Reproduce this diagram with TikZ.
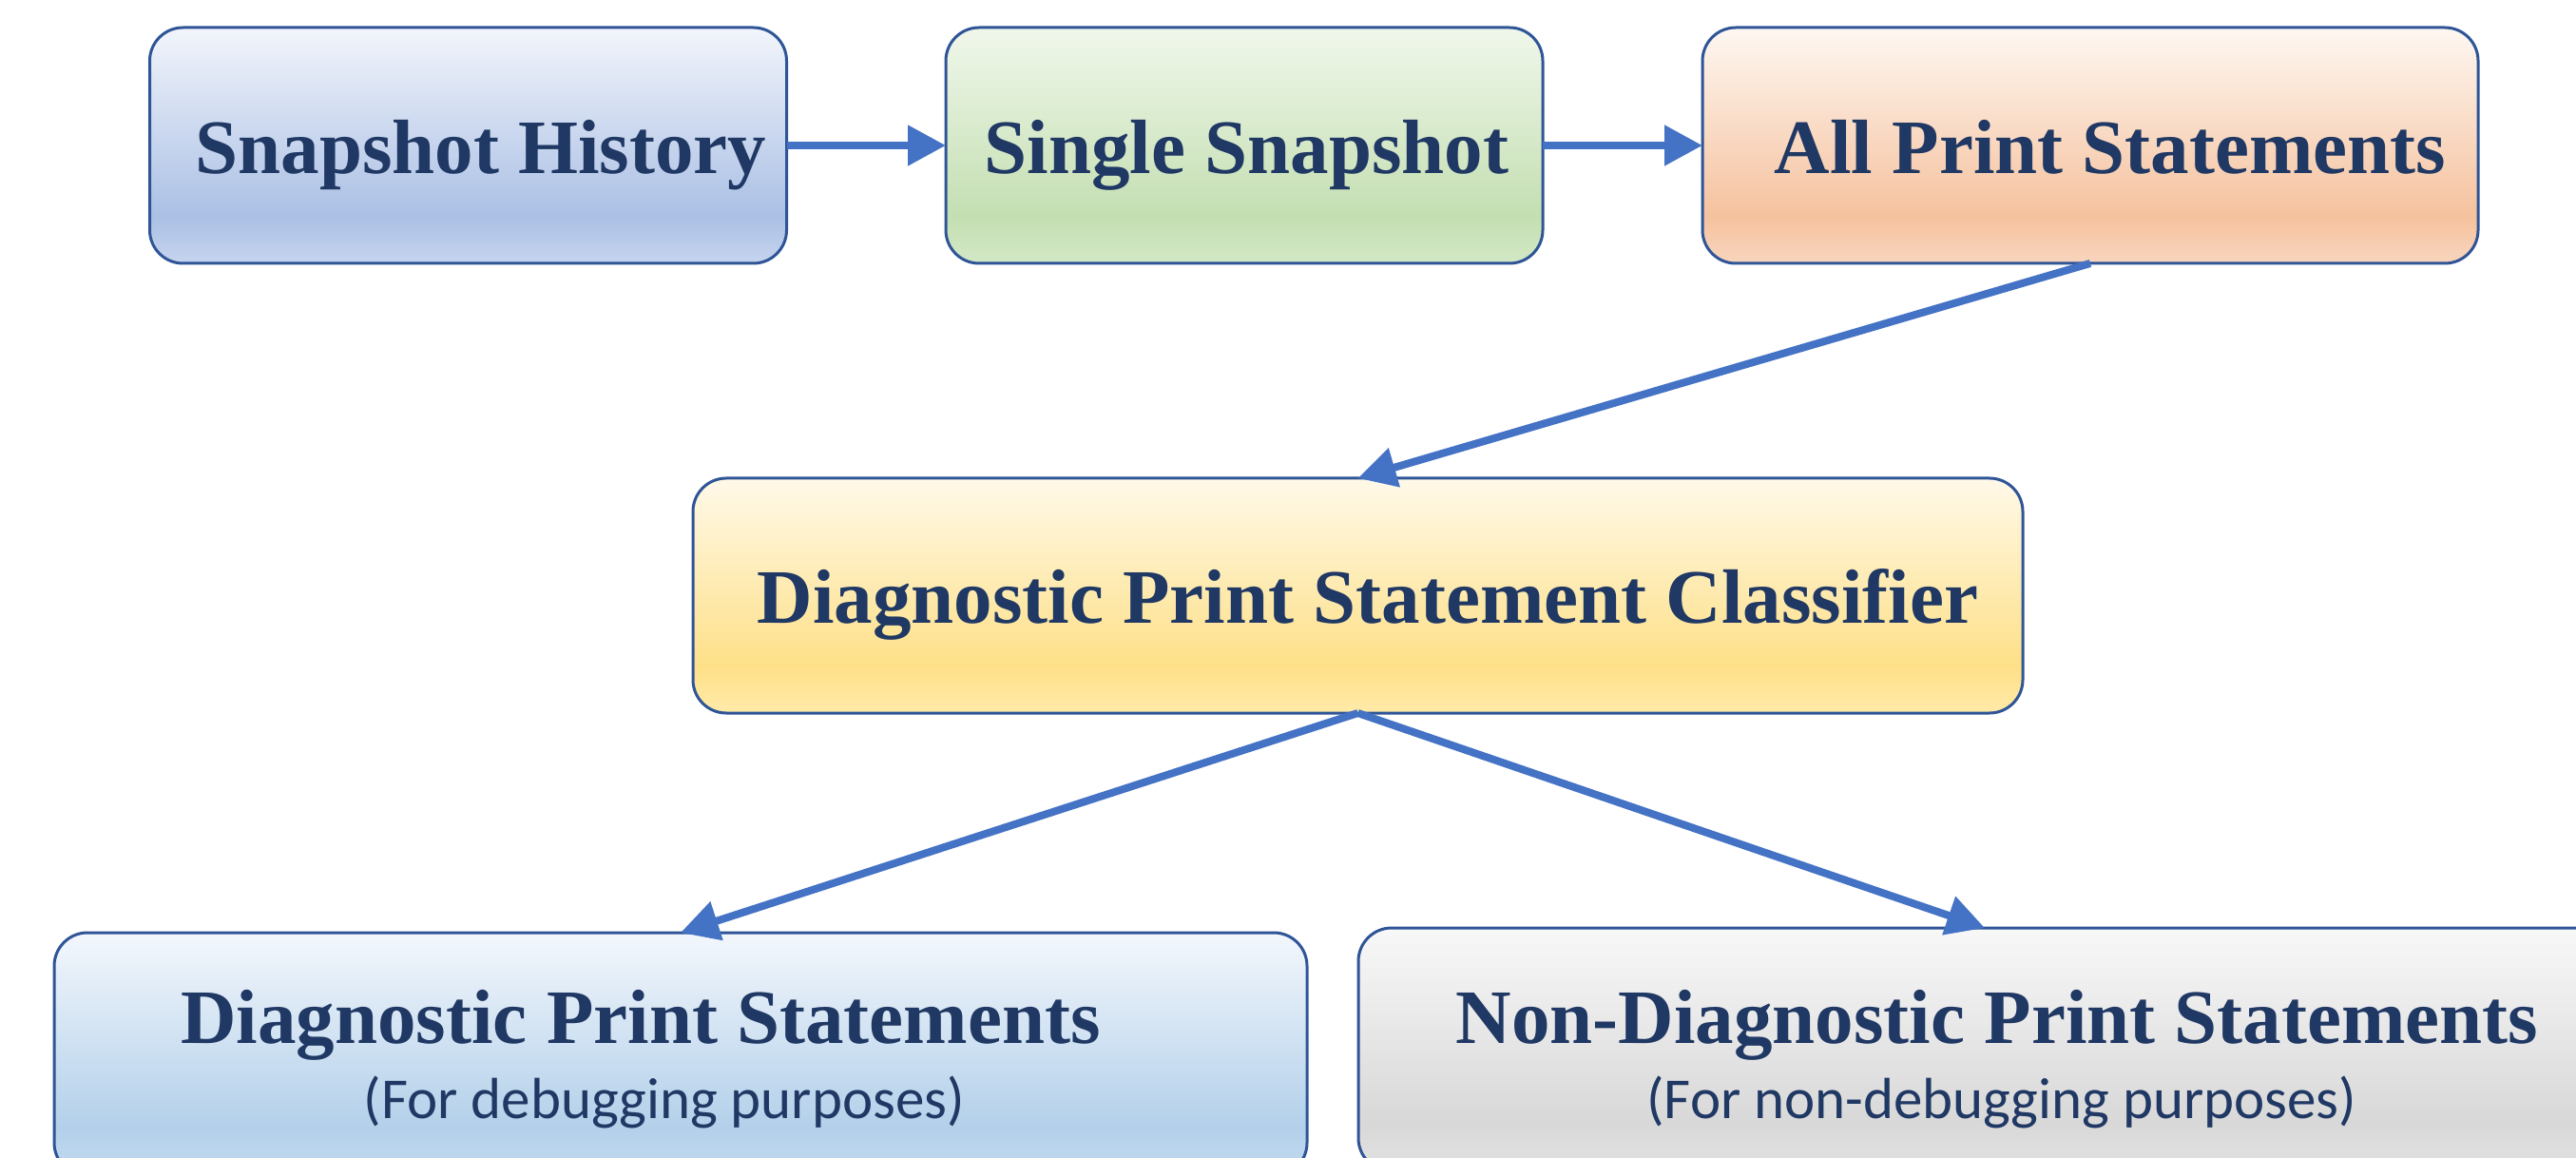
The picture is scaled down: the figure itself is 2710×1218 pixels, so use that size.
\documentclass[tikz,border=0pt]{standalone}
\usepackage{fontspec}
\setmainfont{Liberation Serif}
\newfontfamily\subfont{Carlito}
\usetikzlibrary{arrows.meta}

% line and text colours
\definecolor{bord}{HTML}{2F5597}
\definecolor{arrc}{HTML}{4472C4}
\definecolor{txtc}{HTML}{203864}

% gradient stops: T = top, M = darkest band near the bottom, B = bottom edge
\definecolor{blueT}{HTML}{F2F5FB}\definecolor{blueM}{HTML}{ABC0E5}\definecolor{blueB}{HTML}{C6D4EE}
\definecolor{grnT}{HTML}{F0F7EB}\definecolor{grnM}{HTML}{C4DFB2}\definecolor{grnB}{HTML}{D3E8C6}
\definecolor{pchT}{HTML}{FEF7F2}\definecolor{pchM}{HTML}{F5C29E}\definecolor{pchB}{HTML}{F8D5BE}
\definecolor{ylwT}{HTML}{FFF9E9}\definecolor{ylwM}{HTML}{FEE088}\definecolor{ylwB}{HTML}{FFEAA9}
\definecolor{skyT}{HTML}{F3F7FC}\definecolor{skyM}{HTML}{B3D0EA}\definecolor{skyB}{HTML}{C3DAEF}
\definecolor{gryT}{HTML}{F8F8F8}\definecolor{gryM}{HTML}{D8D8D8}\definecolor{gryB}{HTML}{E2E2E2}

\pgfdeclareverticalshading{shblue}{100bp}{color(0bp)=(blueB); color(25bp)=(blueB); color(35bp)=(blueM); color(75bp)=(blueT); color(100bp)=(blueT)}
\pgfdeclareverticalshading{shgreen}{100bp}{color(0bp)=(grnB); color(25bp)=(grnB); color(35bp)=(grnM); color(75bp)=(grnT); color(100bp)=(grnT)}
\pgfdeclareverticalshading{shpeach}{100bp}{color(0bp)=(pchB); color(25bp)=(pchB); color(35bp)=(pchM); color(75bp)=(pchT); color(100bp)=(pchT)}
\pgfdeclareverticalshading{shyellow}{100bp}{color(0bp)=(ylwB); color(25bp)=(ylwB); color(35bp)=(ylwM); color(75bp)=(ylwT); color(100bp)=(ylwT)}
\pgfdeclareverticalshading{shsky}{100bp}{color(0bp)=(skyB); color(25bp)=(skyB); color(35bp)=(skyM); color(75bp)=(skyT); color(100bp)=(skyT)}
\pgfdeclareverticalshading{shgray}{100bp}{color(0bp)=(gryB); color(25bp)=(gryB); color(35bp)=(gryM); color(75bp)=(gryT); color(100bp)=(gryT)}

\tikzset{
  box/.style={rectangle, draw=bord, line width=0.75pt, rounded corners=8.75pt,
              inner sep=0pt, outer sep=0pt, shade},
  title/.style={anchor=base, inner sep=0pt, text=txtc,
                font=\fontsize{20.25pt}{24pt}\selectfont\bfseries},
  subtitle/.style={anchor=base, inner sep=0pt, text=txtc,
                   font=\subfont\fontsize{15.25pt}{18pt}\selectfont},
  flow/.style={draw=arrc, line width=2pt,
               -{Triangle[length=10pt,width=10.25pt]}}
}

\begin{document}
\begin{tikzpicture}[x=0.25pt, y=-0.25pt]
  \useasboundingbox (0,0) rectangle (2710,1218);
  \fill[white] (0,0) rectangle (2710,1218);
  \clip (0,0) rectangle (2710,1218);

  % boxes
  \node[box, shading=shblue,   minimum width=167.5pt,  minimum height=62pt]    (hist)    at (492.5,153)   {};
  \node[box, shading=shgreen,  minimum width=157pt,    minimum height=62pt]    (single)  at (1309,153)    {};
  \node[box, shading=shpeach,  minimum width=204pt,    minimum height=62pt]    (allp)    at (2199,153)    {};
  \node[box, shading=shyellow, minimum width=349.75pt, minimum height=61.75pt] (clf)     at (1428.5,626.5) {};
  \node[box, shading=shsky,    minimum width=329.5pt,  minimum height=64pt]    (diag)    at (716,1109)    {};
  \node[box, shading=shgray,   minimum width=329.5pt,  minimum height=64pt]    (nondiag) at (2088,1104)   {};

  % connectors
  \draw[flow] (hist.east) -- (single.west);
  \draw[flow] (single.east) -- (allp.west);
  \draw[flow] (allp.south) -- (clf.north);
  \draw[flow] (clf.south) -- (diag.north);
  \draw[flow] (clf.south) -- (nondiag.north);

  % labels
  \node[title] (thist)    at (506,183)    {Snapshot History};
  \node[title] (tsingle)  at (1311.5,183) {Single Snapshot};
  \node[title] (tallp)    at (2220,183)   {All Print Statements};
  \node[title] (tclf)     at (1439,656)   {Diagnostic Print Statement Classifier};
  \node[title] (tdiag)    at (674,1097)   {Diagnostic Print Statements};
  \node[subtitle] (sdiag) at (699,1176)   {(For debugging purposes)};
  \node[title] (tnon)     at (2101,1097)  {Non-Diagnostic Print Statements};
  \node[subtitle] (snon)  at (2106,1176)  {(For non-debugging purposes)};
\end{tikzpicture}
\end{document}
